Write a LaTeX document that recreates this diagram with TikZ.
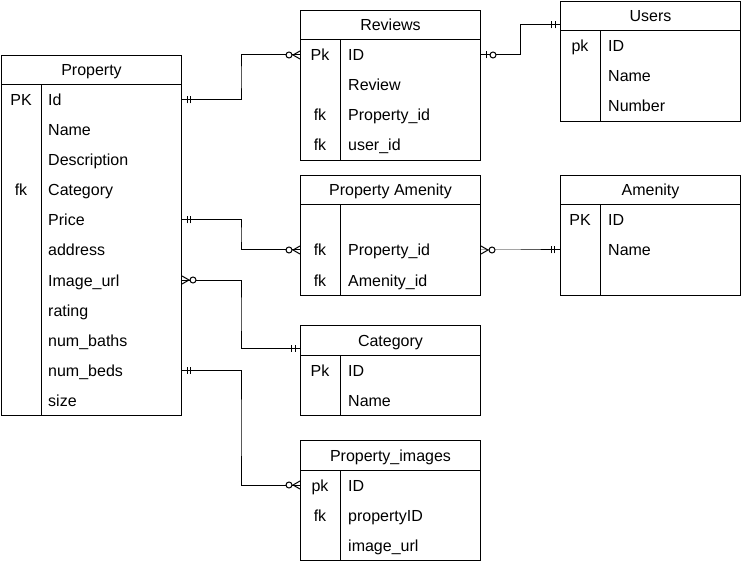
\documentclass[tikz,border=0pt]{standalone}
\usepackage{fontspec}
\setmainfont{Liberation Sans}
\usetikzlibrary{calc, decorations.markings}
\tikzset{
  entity/.style={
    rectangle, draw=black, line width=1pt, minimum width=180pt,
    inner sep=0pt, anchor=north west
  },
  rule/.style={
    line width=1pt
  },
  title/.style={
    inner sep=0pt, text height=15pt, text depth=3pt,
    font=\fontsize{16}{19}\selectfont
  },
  field/.style={
    anchor=west, inner sep=0pt, text height=15pt, text depth=3pt,
    font=\fontsize{16}{19}\selectfont
  },
  keyfield/.style={
    inner sep=0pt, text height=15pt, text depth=3pt,
    font=\fontsize{16}{19}\selectfont
  },
  rel/.style={
    draw, line width=1pt,
    to path={-| ($(\tikztostart)!.5!(\tikztotarget)$) |- (\tikztotarget)}
  },
  onestart/.style={postaction={decorate, decoration={markings,
    mark=at position 5pt with {\draw[rule] (0,-3.5pt) -- (0,3.5pt);},
    mark=at position 8.5pt with {\draw[rule] (0,-3.5pt) -- (0,3.5pt);}}}},
  oneend/.style={postaction={decorate, decoration={markings,
    mark=at position -8.5pt with {\draw[rule] (0,-3.5pt) -- (0,3.5pt);},
    mark=at position -5pt with {\draw[rule] (0,-3.5pt) -- (0,3.5pt);}}}},
  zeroonestart/.style={postaction={decorate, decoration={markings,
    mark=at position 5pt with {\draw[rule] (0,-3.5pt) -- (0,3.5pt);},
    mark=at position 12pt with {\draw[rule, fill=white] (0,0) circle (3pt);}}}},
  manystart/.style={postaction={decorate, decoration={markings,
    mark=at position 7pt with {\draw[rule] (-7pt,4pt) -- (0,0) -- (-7pt,-4pt);},
    mark=at position 11pt with {\draw[rule, fill=white] (0,0) circle (3pt);}}}},
  manyend/.style={postaction={decorate, decoration={markings,
    mark=at position -11pt with {\draw[rule, fill=white] (0,0) circle (3pt);},
    mark=at position -7pt with {\draw[rule] (7pt,4pt) -- (0,0) -- (7pt,-4pt);}}}}
}
\begin{document}
\begin{tikzpicture}[x=1pt, y=-1pt]
\useasboundingbox (0,0) rectangle (741,561);

% Property
\node[entity, minimum height=360pt] (property) at (1,55) {};
\node[title] (propertyt) at ([yshift=-15pt]property.north) {Property};
\draw[rule] ([yshift=-30pt]property.north west) -- ([yshift=-30pt]property.north east);
\draw[rule] ([shift={(40pt,-30pt)}]property.north west) -- ([xshift=40pt]property.south west);
\foreach \f [count=\i] in {Id,Name,Description,Category,Price,address,Image\_url,rating,num\_baths,num\_beds,size}
  \node[field] (prop\i) at ([shift={(47pt,{-15pt-30pt*\i})}]property.north west) {\f};
\node[keyfield] (propk1) at ([shift={(20pt,-45pt)}]property.north west) {PK};
\node[keyfield] (propk4) at ([shift={(20pt,-135pt)}]property.north west) {fk};

% Reviews
\node[entity, minimum height=150pt] (reviews) at (300,10) {};
\node[title] (reviewst) at ([yshift=-15pt]reviews.north) {Reviews};
\draw[rule] ([yshift=-30pt]reviews.north west) -- ([yshift=-30pt]reviews.north east);
\draw[rule] ([shift={(40pt,-30pt)}]reviews.north west) -- ([xshift=40pt]reviews.south west);
\foreach \f [count=\i] in {ID,Review,Property\_id,user\_id}
  \node[field] (rev\i) at ([shift={(48pt,{-15pt-30pt*\i})}]reviews.north west) {\f};
\foreach \i/\k in {1/Pk,3/fk,4/fk}
  \node[keyfield] (revk\i) at ([shift={(20pt,{-15pt-30pt*\i})}]reviews.north west) {\k};

% Users
\node[entity, minimum height=120pt] (users) at (560,1) {};
\node[title] (userst) at ([yshift=-15pt]users.north) {Users};
\draw[rule] ([yshift=-30pt]users.north west) -- ([yshift=-30pt]users.north east);
\draw[rule] ([shift={(40pt,-30pt)}]users.north west) -- ([xshift=40pt]users.south west);
\foreach \f [count=\i] in {ID,Name,Number}
  \node[field] (usr\i) at ([shift={(48pt,{-15pt-30pt*\i})}]users.north west) {\f};
\node[keyfield] (usrk1) at ([shift={(20pt,-45pt)}]users.north west) {pk};

% Property Amenity
\node[entity, minimum height=120pt] (propamenity) at (300,175) {};
\node[title] (propamenityt) at ([yshift=-15pt]propamenity.north) {Property Amenity};
\draw[rule] ([yshift=-30pt]propamenity.north west) -- ([yshift=-30pt]propamenity.north east);
\draw[rule] ([shift={(40pt,-30pt)}]propamenity.north west) -- ([xshift=40pt]propamenity.south west);
\foreach \i/\f in {2/Property\_id,3/Amenity\_id} {
  \node[field] (pa\i) at ([shift={(48pt,{-15pt-30pt*\i})}]propamenity.north west) {\f};
  \node[keyfield] (pak\i) at ([shift={(20pt,{-15pt-30pt*\i})}]propamenity.north west) {fk};
}

% Amenity
\node[entity, minimum height=120pt] (amenity) at (560,175) {};
\node[title] (amenityt) at ([yshift=-15pt]amenity.north) {Amenity};
\draw[rule] ([yshift=-30pt]amenity.north west) -- ([yshift=-30pt]amenity.north east);
\draw[rule] ([shift={(40pt,-30pt)}]amenity.north west) -- ([xshift=40pt]amenity.south west);
\foreach \f [count=\i] in {ID,Name}
  \node[field] (am\i) at ([shift={(48pt,{-15pt-30pt*\i})}]amenity.north west) {\f};
\node[keyfield] (amk1) at ([shift={(20pt,-45pt)}]amenity.north west) {PK};

% Category
\node[entity, minimum height=90pt] (category) at (300,325) {};
\node[title] (categoryt) at ([yshift=-15pt]category.north) {Category};
\draw[rule] ([yshift=-30pt]category.north west) -- ([yshift=-30pt]category.north east);
\draw[rule] ([shift={(40pt,-30pt)}]category.north west) -- ([xshift=40pt]category.south west);
\foreach \f [count=\i] in {ID,Name}
  \node[field] (cat\i) at ([shift={(48pt,{-15pt-30pt*\i})}]category.north west) {\f};
\node[keyfield] (catk1) at ([shift={(20pt,-45pt)}]category.north west) {Pk};

% Property_images
\node[entity, minimum height=120pt] (propimages) at (300,440) {};
\node[title] (propimagest) at ([yshift=-15pt]propimages.north) {Property\_images};
\draw[rule] ([yshift=-30pt]propimages.north west) -- ([yshift=-30pt]propimages.north east);
\draw[rule] ([shift={(40pt,-30pt)}]propimages.north west) -- ([xshift=40pt]propimages.south west);
\foreach \f [count=\i] in {ID,propertyID,image\_url}
  \node[field] (pi\i) at ([shift={(48pt,{-15pt-30pt*\i})}]propimages.north west) {\f};
\foreach \i/\k in {1/pk,2/fk}
  \node[keyfield] (pik\i) at ([shift={(20pt,{-15pt-30pt*\i})}]propimages.north west) {\k};

% relations
\draw[rel, onestart, manyend] (prop1 -| property.east) to (rev1 -| reviews.west);
\draw[rel, zeroonestart, oneend] (rev1 -| reviews.east) to ([yshift=-24pt]users.north west);
\draw[rel, onestart, manyend] (prop5 -| property.east) to (pa2 -| propamenity.west);
\draw[rel, manystart, oneend] (pa2 -| propamenity.east) to (am2 -| amenity.west);
\draw[rel, manystart, oneend] (prop7 -| property.east) to ([yshift=-23pt]category.north west);
\draw[rel, onestart, manyend] (prop10 -| property.east) to (pi1 -| propimages.west);
\end{tikzpicture}
\end{document}
